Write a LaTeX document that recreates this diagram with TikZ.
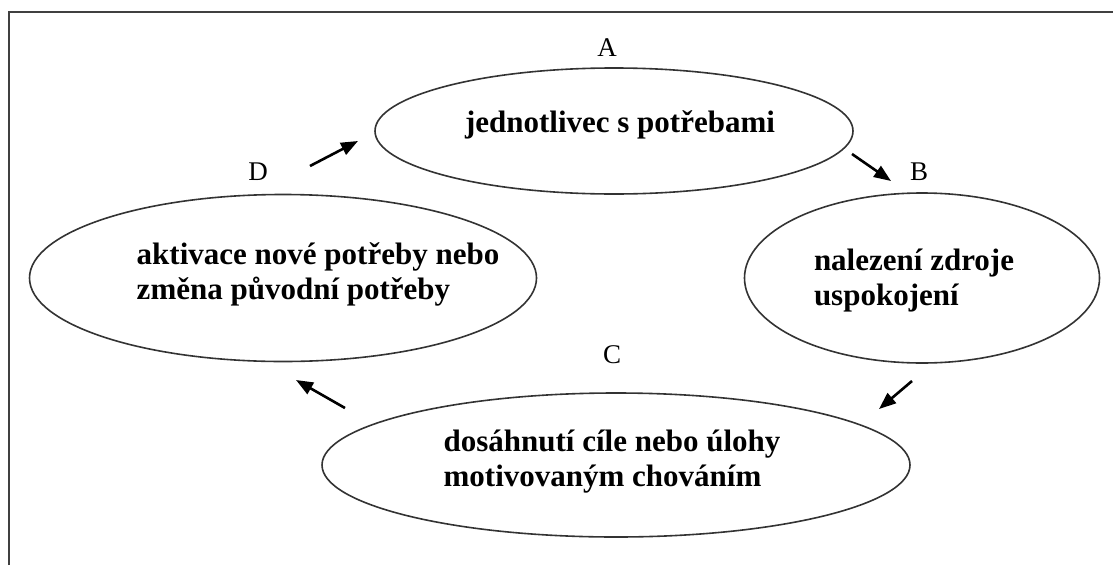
\documentclass[tikz,border=0pt]{standalone}
\usepackage{fontspec}
\setmainfont{Liberation Serif}
\usetikzlibrary{shapes.geometric,arrows.meta}

\tikzset{
  bubble/.style={draw=black!80, line width=1.6pt, ellipse, inner sep=0pt, outer sep=0pt},
  bubbletext/.style={align=left, inner sep=0pt, font=\fontsize{31}{35}\selectfont\bfseries},
  steplabel/.style={inner sep=0pt, font=\fontsize{27}{30}\selectfont},
  cyclearrow/.style={line width=2.6pt, -{Triangle[length=17pt,width=13pt]}},
  frameline/.style={draw=black!75, line width=2.2pt}
}

\begin{document}
\begin{tikzpicture}[x=1pt,y=1pt,yscale=-1]
\useasboundingbox (0,0) rectangle (1113,565);

% frame
\draw [frameline] (9,565) -- (9,12) -- (1113,12);

% Ellipses
\node [bubble, minimum width=478, minimum height=126] (need) at (614,131) {};
\node [bubble, minimum width=355, minimum height=170] (source) at (922,278) {};
\node [bubble, minimum width=588, minimum height=144] (goal) at (616,465) {};
\node [bubble, minimum width=507, minimum height=167] (newneed) at (283,278) {};

% Text Node
\node [bubbletext] (needtxt) at (620,125) {jednotlivec s potřebami};
\node [bubbletext] (sourcetxt) at (914,281) {nalezení zdroje\\uspokojení};
\node [bubbletext] (goaltxt) at (612,462) {dosáhnutí cíle nebo úlohy\\motivovaným chováním};
\node [bubbletext] (newneedtxt) at (318,274) {aktivace nové potřeby nebo\\změna původní potřeby};

% Labels
\node [steplabel] (labA) at (607,48) {A};
\node [steplabel] (labB) at (919,172) {B};
\node [steplabel] (labC) at (612,355) {C};
\node [steplabel] (labD) at (258,172) {D};

% Arrows
\coordinate (da0) at (310,166);
\coordinate (da1) at (358,141);
\coordinate (ab0) at (852,154);
\coordinate (ab1) at (891,181);
\coordinate (bc0) at (912,381);
\coordinate (bc1) at (879,409);
\coordinate (cd0) at (345,408);
\coordinate (cd1) at (296,380);
\draw [cyclearrow] (da0) -- (da1);
\draw [cyclearrow] (ab0) -- (ab1);
\draw [cyclearrow] (bc0) -- (bc1);
\draw [cyclearrow] (cd0) -- (cd1);
\end{tikzpicture}
\end{document}
